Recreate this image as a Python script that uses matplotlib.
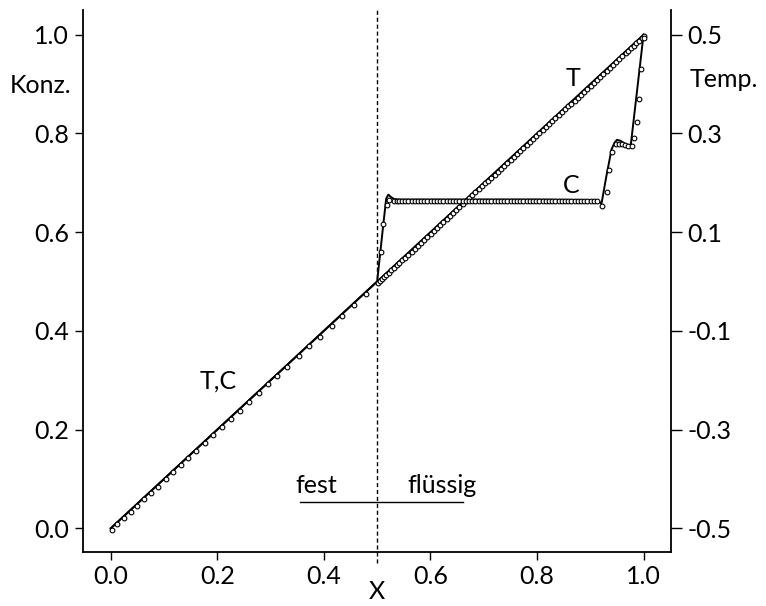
import numpy as np
import matplotlib
matplotlib.use("Agg")
import matplotlib.pyplot as plt
import matplotlib.transforms as mtransforms

plt.rcParams["font.family"] = ["Lato", "DejaVu Sans"]

# -------------------------
# data (Konz. scale, Temp. = Konz. - 0.5)
# -------------------------
# T line: straight from (0,0) to (1,1)
t_line_x = [0.0, 1.0]
t_line_y = [0.0, 1.0]

# C line (analytic)
c_line_x = [0.0, 0.5, 0.506, 0.512, 0.517, 0.521, 0.526, 0.532, 0.54, 0.6, 0.7, 0.8,
            0.9, 0.915, 0.921, 0.93, 0.94, 0.946, 0.95, 0.957, 0.965, 0.972, 0.976, 1.0]
c_line_y = [0.0, 0.5, 0.56, 0.62, 0.668, 0.676, 0.671, 0.667, 0.666, 0.666, 0.666, 0.666,
            0.665, 0.664, 0.657, 0.712, 0.768, 0.782, 0.787, 0.785, 0.779, 0.776, 0.776, 1.0]

# grid points of the numerical solution (markers)
x_solid = [0.0, 0.011, 0.024, 0.036, 0.048, 0.061, 0.074, 0.087, 0.102, 0.116, 0.130,
           0.144, 0.159, 0.175, 0.191, 0.207, 0.224, 0.241, 0.258, 0.277, 0.294, 0.311,
           0.330, 0.351, 0.371, 0.391, 0.413, 0.433, 0.455, 0.477, 0.5]
x_liquid = [0.504, 0.508, 0.512, 0.516, 0.520, 0.525, 0.530, 0.535, 0.540, 0.545, 0.551,
            0.557, 0.563, 0.569, 0.575, 0.581, 0.587, 0.593, 0.599, 0.605, 0.611, 0.617,
            0.623, 0.629, 0.635, 0.641, 0.647, 0.653, 0.659, 0.665, 0.671, 0.677, 0.683,
            0.689, 0.695, 0.701, 0.707, 0.713, 0.719, 0.725, 0.731, 0.737, 0.743, 0.749,
            0.755, 0.761, 0.767, 0.773, 0.779, 0.785, 0.791, 0.797, 0.803, 0.809, 0.815,
            0.821, 0.827, 0.833, 0.839, 0.845, 0.851, 0.857, 0.863, 0.869, 0.875, 0.881,
            0.887, 0.893, 0.899, 0.905, 0.911, 0.917, 0.923, 0.929, 0.935, 0.941, 0.947,
            0.953, 0.959, 0.965, 0.970, 0.975, 0.980, 0.985, 0.990, 0.995, 1.0]

# C markers in the liquid that leave the plateau
c_mark_x = [0.506, 0.510, 0.517, 0.521, 0.921, 0.929, 0.934, 0.940, 0.946, 0.952,
            0.958, 0.964, 0.970, 0.977, 0.980, 0.986, 0.990, 0.994, 0.999]
c_mark_y = [0.562, 0.619, 0.657, 0.668, 0.656, 0.684, 0.729, 0.764, 0.780, 0.781,
            0.780, 0.779, 0.777, 0.776, 0.793, 0.825, 0.873, 0.932, 0.995]
c_plateau = 0.666
plateau_range = (0.525, 0.917)

x_ticks = [0.0, 0.2, 0.4, 0.6, 0.8, 1.0]
konz_ticks = [0.0, 0.2, 0.4, 0.6, 0.8, 1.0]
temp_ticks = [-0.5, -0.3, -0.1, 0.1, 0.3, 0.5]
interface_x = 0.5

# -------------------------
# figure
# -------------------------
fig = plt.figure(figsize=(7.66, 6.06), dpi=100)
ax = fig.add_axes([0.1084, 0.0899, 0.7672, 0.8936])
xlim = (-0.052, 1.051)
ylim = (-0.047, 1.05)
ax.set_xlim(*xlim)
ax.set_ylim(*ylim)

mk = dict(marker="o", ms=3.4, mfc="white", mec="black", mew=0.8, ls="none", zorder=3)
shift = mtransforms.offset_copy(ax.transData, fig=fig, x=0.8, y=-1.2, units="dots")

ax.plot(t_line_x, t_line_y, color="black", lw=1.4, zorder=2)
ax.plot(c_line_x, c_line_y, color="black", lw=1.4, zorder=2)

# T (= C in the solid) markers
t_marks = x_solid + x_liquid
ax.plot(t_marks, t_marks, transform=shift, **mk)
# C markers
plat_x = [x for x in x_liquid if plateau_range[0] < x < plateau_range[1]]
ax.plot(plat_x, [c_plateau] * len(plat_x), transform=shift, **mk)
ax.plot(c_mark_x, c_mark_y, transform=shift, **mk)

# interface
ax.plot([interface_x, interface_x], [-0.07, ylim[1]], color="black", lw=1.0,
        ls=(0, (3, 2)), clip_on=False, zorder=1)

# annotations
fs = 18
ax.text(0.868, 0.912, "T", fontsize=fs, ha="center", va="center")
ax.text(0.865, 0.695, "C", fontsize=fs, ha="center", va="center")
ax.text(0.202, 0.298, "T,C", fontsize=fs, ha="center", va="center")
ax.text(0.346, 0.071, "fest", fontsize=fs, ha="left", va="baseline")
ax.text(0.556, 0.071, "flüssig", fontsize=fs, ha="left", va="baseline")
ax.plot([0.355, 0.661], [0.054, 0.054], color="black", lw=1.0)
ax.text(-0.073, 0.898, "Konz.", fontsize=fs, ha="right", va="center", clip_on=False)
ax.text(1.087, 0.91, "Temp.", fontsize=fs, ha="left", va="center", clip_on=False)

# axes styling
ax.set_xticks(x_ticks)
ax.set_xticklabels([f"{v:.1f}" for v in x_ticks])
ax.set_yticks(konz_ticks)
ax.set_yticklabels([f"{v:.1f}" for v in konz_ticks])
ax.tick_params(labelsize=fs, direction="out", length=6, width=1.0, pad=4)
ax.set_xlabel("X", fontsize=fs, labelpad=-6)
ax.spines["top"].set_visible(False)
ax.spines["right"].set_visible(False)
for s in ["left", "bottom"]:
    ax.spines[s].set_linewidth(1.3)

ax2 = ax.twinx()
ax2.set_ylim(ylim[0] - 0.5, ylim[1] - 0.5)
ax2.set_yticks(temp_ticks)
ax2.set_yticklabels([f"{v:.1f}" for v in temp_ticks])
ax2.tick_params(labelsize=fs, direction="out", length=8, width=1.0, pad=4)
for s in ["top", "left", "bottom"]:
    ax2.spines[s].set_visible(False)
ax2.spines["right"].set_linewidth(1.3)

fig.savefig("out.png", dpi=100)
